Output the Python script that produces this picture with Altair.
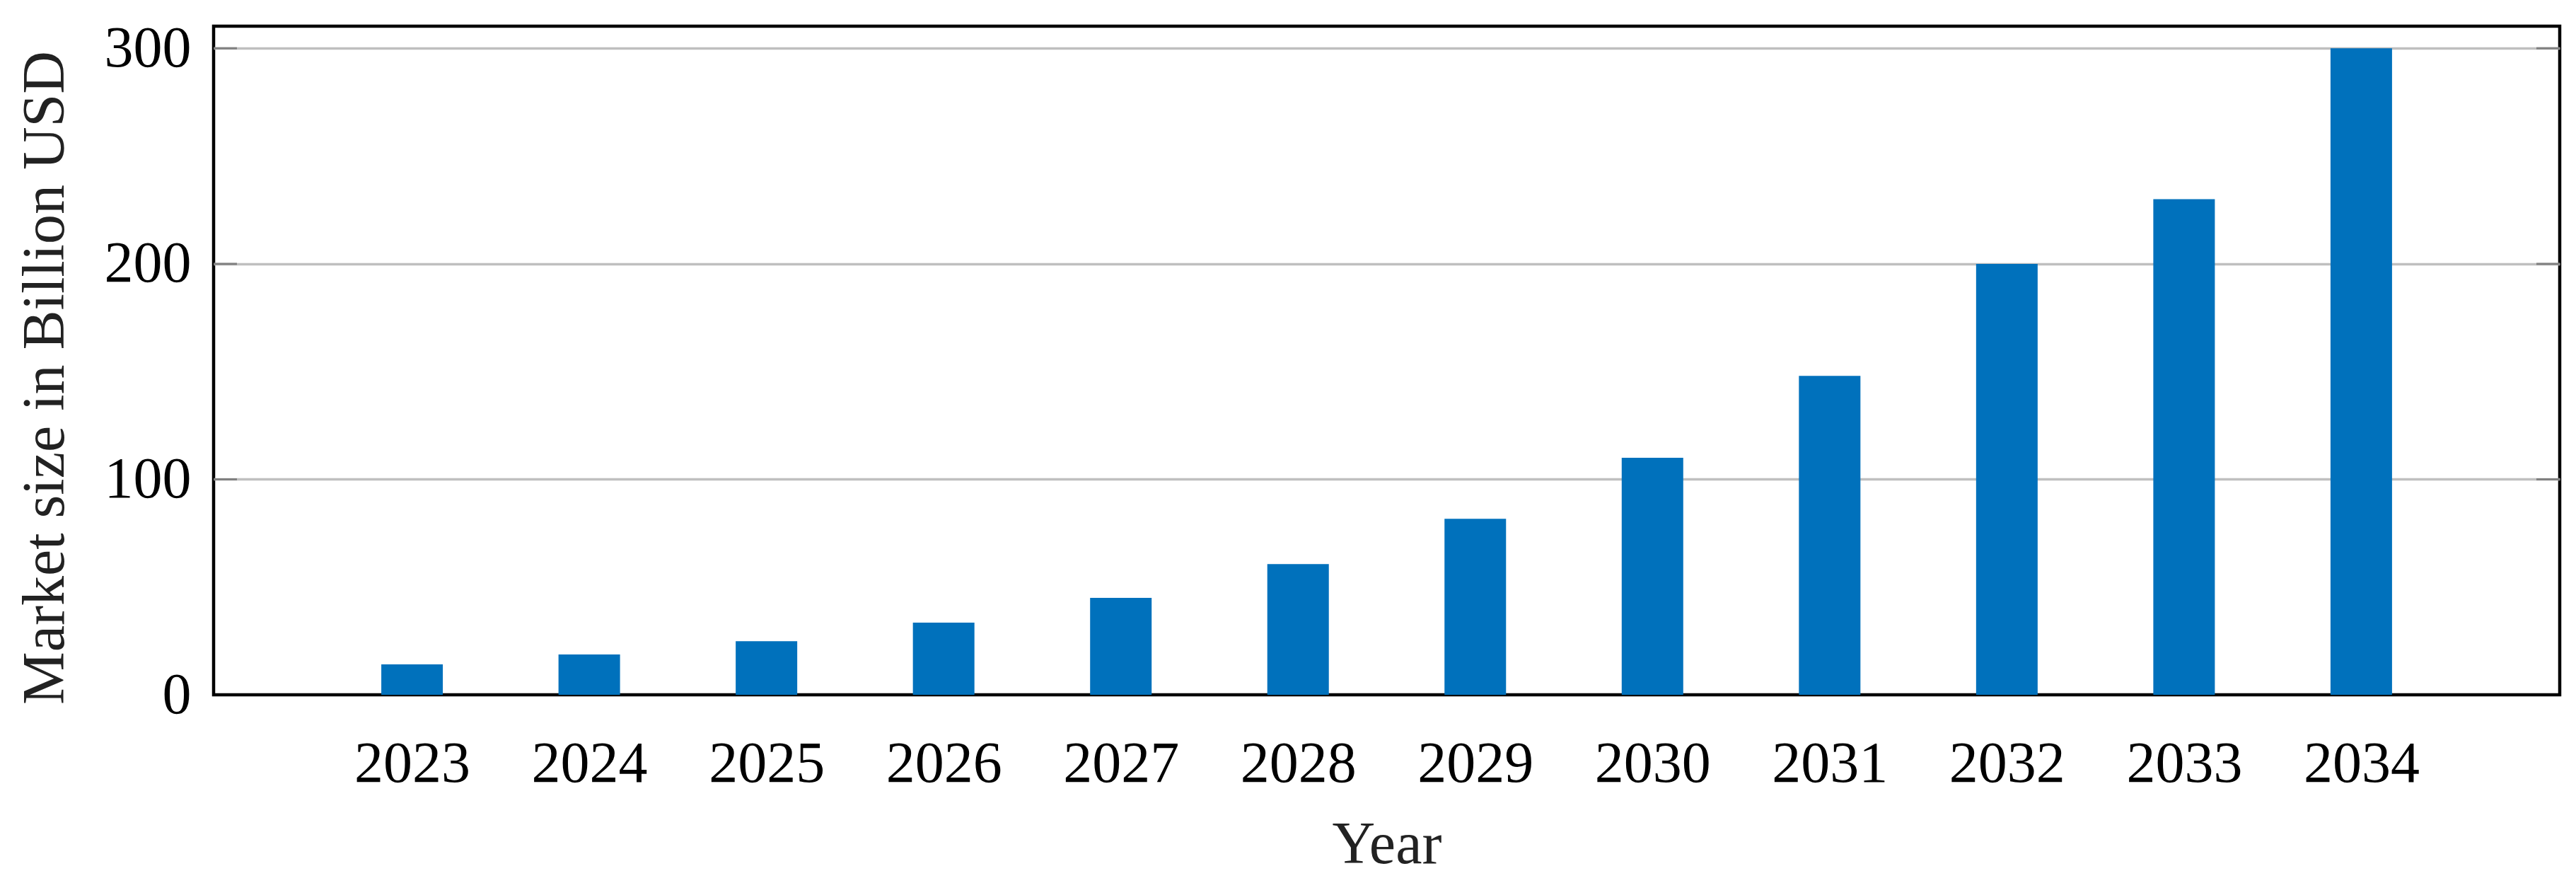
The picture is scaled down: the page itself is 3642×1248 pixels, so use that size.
import altair as alt
import pandas as pd

years = [2023, 2024, 2025, 2026, 2027, 2028, 2029, 2030, 2031, 2032, 2033, 2034]
market_size = [14.1, 18.7, 24.9, 33.5, 45.0, 60.7, 81.7, 110.0, 148.0, 200.0, 230.0, 300.0]
y_ticks = [0, 100, 200, 300]

df = pd.DataFrame({"Year": years, "Size": market_size})
ticks_df = pd.DataFrame({"v": y_ticks})

W = 3317
H = 945
FONT = "Liberation Serif"

xscale = alt.Scale(domain=[2021.9, 2035.1], nice=False, zero=False)
yscale = alt.Scale(domain=[0, 310.3], nice=False)

y_axis = alt.Axis(values=y_ticks, title="Market size in Billion USD", grid=True,
                  gridColor="#bfbfbf", gridWidth=3.5,
                  gridOpacity={"condition": {"test": "datum.value === 0", "value": 0}, "value": 1},
                  ticks=False, domain=False,
                  labelPadding=32, labelFont=FONT, labelFontSize=82,
                  labelColor="#000000", titleFont=FONT, titleFontSize=84,
                  titleColor="#222222", titleFontWeight="normal",
                  titleAngle=270, titleX=-212.7, titleY=H / 2 + 24,
                  titleAlign="center", titleBaseline="alphabetic")

x_axis = alt.Axis(values=years, format="d", title="Year", grid=False, ticks=False,
                  domain=False, labelFlush=False, labelPadding=57,
                  labelFont=FONT, labelFontSize=82, labelColor="#000000",
                  titleFont=FONT, titleFontSize=84, titleColor="#222222",
                  titleFontWeight="normal", titleX=W / 2, titleY=237,
                  titleAlign="center", titleBaseline="alphabetic")

bars = alt.Chart(df).mark_bar(size=87, color="#0071BC").encode(
    x=alt.X("Year:Q", scale=xscale, axis=x_axis),
    y=alt.Y("Size:Q", scale=yscale, axis=y_axis, title="Market size in Billion USD"),
)

left_ticks = alt.Chart(ticks_df).transform_filter("datum.v > 0").mark_rule(
    color="#808080", strokeWidth=3
).encode(
    y=alt.Y("v:Q", scale=yscale, axis=y_axis, title="Market size in Billion USD"),
    x=alt.value(0),
    x2=alt.value(33),
)

right_ticks = alt.Chart(ticks_df).transform_filter("datum.v > 0").mark_rule(
    color="#808080", strokeWidth=3
).encode(
    y=alt.Y("v:Q", scale=yscale, axis=y_axis, title="Market size in Billion USD"),
    x=alt.value(W - 33),
    x2=alt.value(W),
)

chart = alt.layer(bars, left_ticks, right_ticks).properties(
    width=W,
    height=H,
    autosize=alt.AutoSizeParams(type="none"),
    padding={"left": 294, "top": 29, "right": 12, "bottom": 256},
    background="white",
).configure_view(stroke="black", strokeWidth=4.5)

chart.save("out.html", embed_options={"renderer": "svg", "actions": False})
